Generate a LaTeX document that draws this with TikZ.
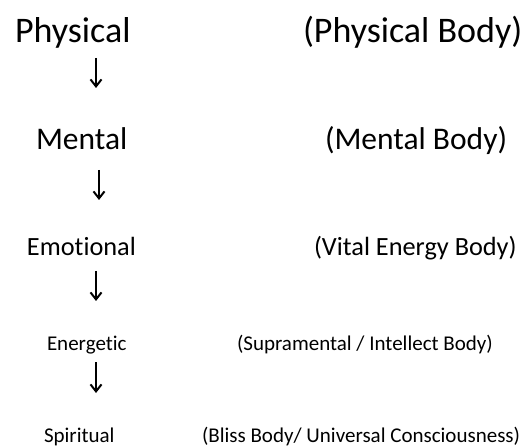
\documentclass[tikz,border=0pt]{standalone}
\usepackage{fontspec}
\setmainfont{Carlito}[Ligatures=NoCommon]
\usetikzlibrary{arrows.meta}
\tikzset{
  lbl/.style={anchor=base west, inner sep=0pt, outer sep=0pt},
  fa/.style={font=\fontsize{36}{40}\selectfont},
  fb/.style={font=\fontsize{31.5}{36}\selectfont},
  fc/.style={font=\fontsize{26.3}{30}\selectfont},
  fd/.style={font=\fontsize{21}{25}\selectfont},
  darr/.style={line width=2pt, -{Straight Barb[length=7pt,width=11pt,line width=2pt]}}
}
\begin{document}
\begin{tikzpicture}[x=1pt,y=-1pt]
\useasboundingbox (0,0) rectangle (530,446);
\node[lbl,fa] (l1) at (15,43) {Physical};
\node[lbl,fa] (r1) at (303,43) {(Physical Body)};
\node[lbl,fb] (l2) at (36,150) {Mental};
\node[lbl,fb] (r2) at (325,150) {(Mental Body)};
\node[lbl,fc] (l3) at (27,256) {Emotional};
\node[lbl,fc] (r3) at (314,256) {(Vital Energy Body)};
\node[lbl,fd] (l4) at (47,350) {Energetic};
\node[lbl,fd] (r4) at (237,350) {(Supramental / Intellect Body)};
\node[lbl,fd] (l5) at (44,442) {Spiritual};
\node[lbl,fd] (r5) at (202,442) {(Bliss Body/ Universal Consciousness)};
\coordinate (a1s) at (96,58);
\coordinate (a1e) at (96,88);
\coordinate (a2s) at (99,170);
\coordinate (a2e) at (99,200);
\coordinate (a3s) at (96,271);
\coordinate (a3e) at (96,301);
\coordinate (a4s) at (96,362);
\coordinate (a4e) at (96,393);
\draw[darr] (a1s) -- (a1e);
\draw[darr] (a2s) -- (a2e);
\draw[darr] (a3s) -- (a3e);
\draw[darr] (a4s) -- (a4e);
\end{tikzpicture}
\end{document}
